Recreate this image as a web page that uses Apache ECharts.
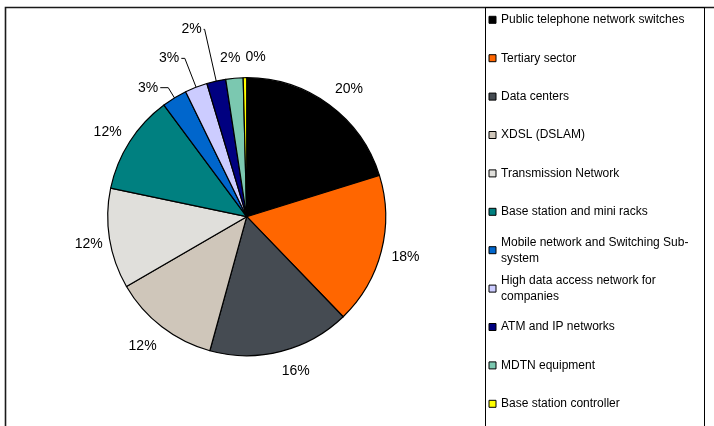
<!DOCTYPE html>
<html><head><meta charset="utf-8">
<script src="https://cdn.jsdelivr.net/npm/echarts@6/dist/echarts.min.js"></script>
<style>html,body{margin:0;padding:0;background:#fff}#c{width:714px;height:426px}</style>
</head><body><div id="c"></div>
<script>
const categories = [
  'Public telephone network switches',
  'Tertiary sector',
  'Data centers',
  'XDSL (DSLAM)',
  'Transmission Network',
  'Base station and mini racks',
  'Mobile network and Switching Sub-system',
  'High data access network for companies',
  'ATM and IP networks',
  'MDTN equipment',
  'Base station controller'
];
const values = [20.1, 17.5, 16.4, 12.3, 11.6, 11.5, 2.9, 2.6, 2.2, 2.0, 0.4];
const legendLabels = [
  'Public telephone network switches',
  'Tertiary sector',
  'Data centers',
  'XDSL (DSLAM)',
  'Transmission Network',
  'Base station and mini racks',
  'Mobile network and Switching Sub-\nsystem',
  'High data access network for\ncompanies',
  'ATM and IP networks',
  'MDTN equipment',
  'Base station controller'
];
const colors = ['#000000','#FF6600','#454B52','#CFC6BA','#E0DFDB','#008080','#0066CC','#CCCCFF','#000080','#7BC8B0','#FFFF00'];

// label styling (positions/lengths are style, not data)
const leaderLines = {6: [12, 8], 7: [31, 3.5], 8: [53, 1]};
const ringOffsets = {0: [5, 5], 1: [0, 0], 2: [8.6, -4.5], 3: [-4, 0], 4: [4, 1], 5: [-1, 3.5], 9: [-2, 4.5], 10: [11, 4.5]};

const total = values.reduce((a, b) => a + b, 0);
const pct = v => Math.round(v / total * 100) + '%';
const FONT = '"Liberation Sans", Arial, sans-serif';
const CX = 246.7, CY = 216.7, R = 139;

const mainData = categories.map((n, i) => {
  const ll = leaderLines[i];
  return {
    name: n, value: values[i],
    itemStyle: {color: colors[i]},
    label: {show: !!ll},
    labelLine: ll ? {show: true, length: ll[0], length2: ll[1]} : {show: false}
  };
});
const ringData = categories.map((n, i) => ({
  name: n, value: values[i],
  label: {show: !leaderLines[i]}
}));

const chart = echarts.init(document.getElementById('c'), null, {renderer: 'canvas'});
chart.setOption({
  animation: false,
  backgroundColor: '#ffffff',
  graphic: [
    {type: 'rect', shape: {x: 5.5, y: 7.5, width: 900, height: 700}, style: {fill: 'none', stroke: '#1a1a1a', lineWidth: 1.6}, silent: true},
    {type: 'rect', shape: {x: 485.5, y: 7.5, width: 219, height: 700}, style: {fill: 'none', stroke: '#000', lineWidth: 1}, silent: true}
  ],
  legend: {
    orient: 'vertical',
    left: 488.5,
    top: -4.2,
    height: 600,
    padding: 0,
    itemWidth: 7,
    itemHeight: 7,
    itemGap: -9.6,
    icon: 'rect',
    selectedMode: false,
    itemStyle: {borderColor: '#000', borderWidth: 1},
    formatter: name => legendLabels[categories.indexOf(name)],
    textStyle: {fontSize: 12, lineHeight: 16, color: '#000', fontFamily: FONT},
    data: categories.map((n, i) => ({
      name: n,
      textStyle: {
        padding: legendLabels[i].indexOf('\n') >= 0 ? [16, 0, 0, 0] : [16, 0, 16, 0],
        backgroundColor: 'rgba(255,255,255,0)'
      }
    }))
  },
  series: [
    {
      type: 'pie',
      center: [CX, CY],
      radius: R,
      startAngle: 90,
      clockwise: true,
      avoidLabelOverlap: false,
      itemStyle: {borderColor: '#000', borderWidth: 1.2},
      emphasis: {disabled: true},
      label: {
        position: 'outside',
        formatter: p => pct(p.value),
        fontSize: 14, color: '#000', fontFamily: FONT,
        distanceToLabelLine: 2
      },
      labelLine: {lineStyle: {color: '#000', width: 1}},
      data: mainData
    },
    {
      type: 'pie',
      center: [CX, CY],
      radius: [R + 19, R + 25],
      startAngle: 90,
      clockwise: true,
      silent: true,
      avoidLabelOverlap: false,
      itemStyle: {color: 'rgba(0,0,0,0)', borderWidth: 0},
      emphasis: {disabled: true},
      label: {
        position: 'inside',
        formatter: p => pct(p.value),
        fontSize: 14, color: '#000', fontFamily: FONT
      },
      labelLine: {show: false},
      labelLayout: p => {
        const o = ringOffsets[p.dataIndex] || [0, 0];
        return {dx: o[0], dy: o[1]};
      },
      data: ringData
    }
  ]
});
</script>
</body></html>
